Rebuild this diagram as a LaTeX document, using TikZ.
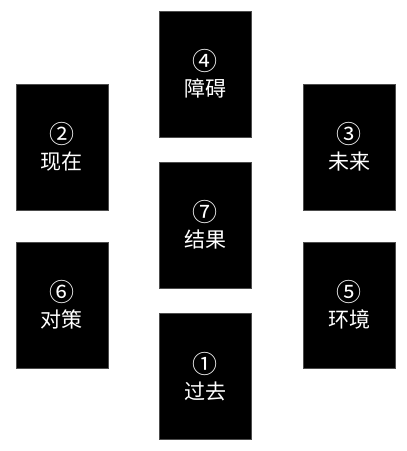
\documentclass[tikz,border=0pt]{standalone}
\usepackage{fontspec}
\newfontfamily\cjk{Noto Sans CJK SC}
\usepackage{tikz}
\newcommand{\nr}[1]{{\fontsize{25}{27}\selectfont #1}}

\begin{document}
\begin{tikzpicture}[x=1pt, y=-1pt, card/.style={fill=black, draw=black!70, line width=0.4pt, minimum width=92pt, minimum height=126pt, inner sep=0pt, text=white, align=center, font=\cjk\fontsize{21}{26}\selectfont}]
    \useasboundingbox (0,0) rectangle (407,451);
    \node[card] (obst) at (205.5, 74) {\nr{④}\\障碍};
    \node[card] (now) at (62, 147) {\nr{②}\\现在};
    \node[card] (future) at (349, 147) {\nr{③}\\未来};
    \node[card] (result) at (205.5, 225) {\nr{⑦}\\结果};
    \node[card] (counter) at (62, 305) {\nr{⑥}\\对策};
    \node[card] (env) at (349, 305) {\nr{⑤}\\环境};
    \node[card] (past) at (205.5, 376.5) {\nr{①}\\过去};
\end{tikzpicture}
\end{document}
